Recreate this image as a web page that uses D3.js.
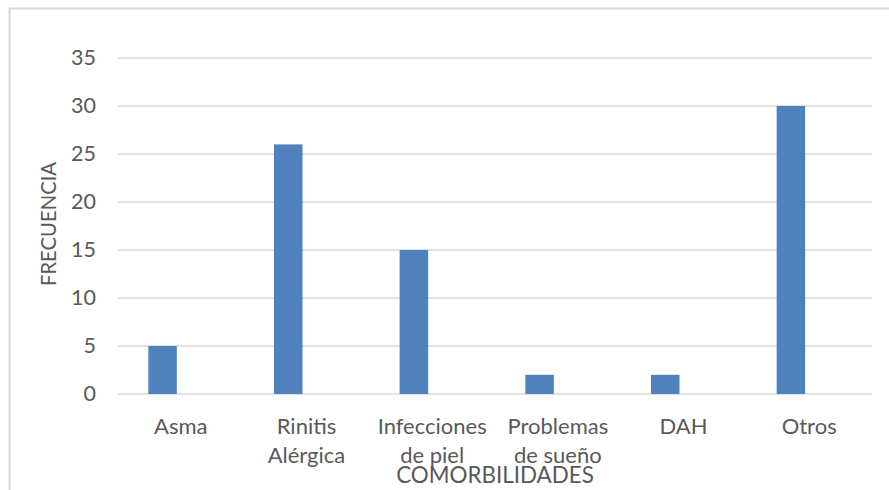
<!DOCTYPE html>
<html>
<head>
<meta charset="utf-8">
<script src="https://cdn.jsdelivr.net/npm/d3@7"></script>
<style>
  html, body { margin: 0; padding: 0; background: #fff; }
  svg { display: block; font-family: Lato, "Open Sans", sans-serif; }
</style>
</head>
<body>
<svg id="chart" width="889" height="490"></svg>
<script>
// Comorbidity counts
const categories = [["Asma"], ["Rinitis", "Alérgica"], ["Infecciones", "de piel"], ["Problemas", "de sueño"], ["DAH"], ["Otros"]];
const frecuencia = [5, 26, 15, 2, 2, 30];
const yTicks = [0, 5, 10, 15, 20, 25, 30, 35];
const seriesNames = ["Frecuencia", "(vacía)"];

const svg = d3.select("#chart");
const W = 889, H = 490;
const margin = { left: 118, right: 17, top: 58, bottom: 96 };
const plotW = W - margin.left - margin.right;
const plotH = H - margin.top - margin.bottom;
const textColor = "#595959";
const gridColor = "#d9d9d9";

// outer frame
svg.append("rect")
  .attr("x", 9.5).attr("y", 8.5)
  .attr("width", 900).attr("height", 500)
  .attr("fill", "none").attr("stroke", gridColor).attr("stroke-width", 2);

const g = svg.append("g").attr("transform", `translate(${margin.left},${margin.top})`);

const keys = categories.map(c => c.join(" "));
const x = d3.scaleBand().domain(keys).range([0, plotW]).padding(0);
const x1 = d3.scaleBand().domain(seriesNames).range([0, x.bandwidth()]).paddingInner(0.22).paddingOuter(0.83);
const y = d3.scaleLinear().domain([0, 35]).range([plotH, 0]);

// gridlines
g.append("g").selectAll("line").data(yTicks).join("line")
  .attr("x1", 0).attr("x2", plotW)
  .attr("y1", d => y(d)).attr("y2", d => y(d))
  .attr("stroke", gridColor).attr("stroke-width", 1.5);

// y tick labels
const yAxis = d3.axisLeft(y).tickValues(yTicks).tickSize(0).tickPadding(22);
const ya = g.append("g").call(yAxis);
ya.select(".domain").remove();
ya.selectAll("text").attr("fill", textColor).style("font-size", "21.5px").style("font-family", "Lato, sans-serif");

// bars
g.append("g").selectAll("rect").data(frecuencia).join("rect")
  .attr("x", (d, i) => x(keys[i]) + x1(seriesNames[0]))
  .attr("width", x1.bandwidth())
  .attr("y", d => y(d))
  .attr("height", d => plotH - y(d))
  .attr("fill", "#4f81bd");

// category labels (wrapped)
const lab = g.append("g").selectAll("text").data(categories).join("text")
  .attr("x", (d, i) => x(keys[i]) + x.bandwidth() / 2)
  .attr("y", plotH + 40)
  .attr("text-anchor", "middle")
  .attr("fill", textColor)
  .style("font-size", "22px");
lab.selectAll("tspan").data(d => d).join("tspan")
  .attr("x", function() { return d3.select(this.parentNode).attr("x"); })
  .attr("dy", (d, i) => i === 0 ? 0 : 29)
  .text(d => d);

// axis titles
svg.append("text")
  .attr("x", margin.left + plotW / 2).attr("y", 483)
  .attr("text-anchor", "middle").attr("fill", textColor)
  .style("font-size", "22.4px")
  .text("COMORBILIDADES");

svg.append("text")
  .attr("transform", "translate(56,224) rotate(-90)")
  .attr("text-anchor", "middle").attr("fill", textColor)
  .style("font-size", "20.3px")
  .text("FRECUENCIA");
</script>
</body>
</html>
